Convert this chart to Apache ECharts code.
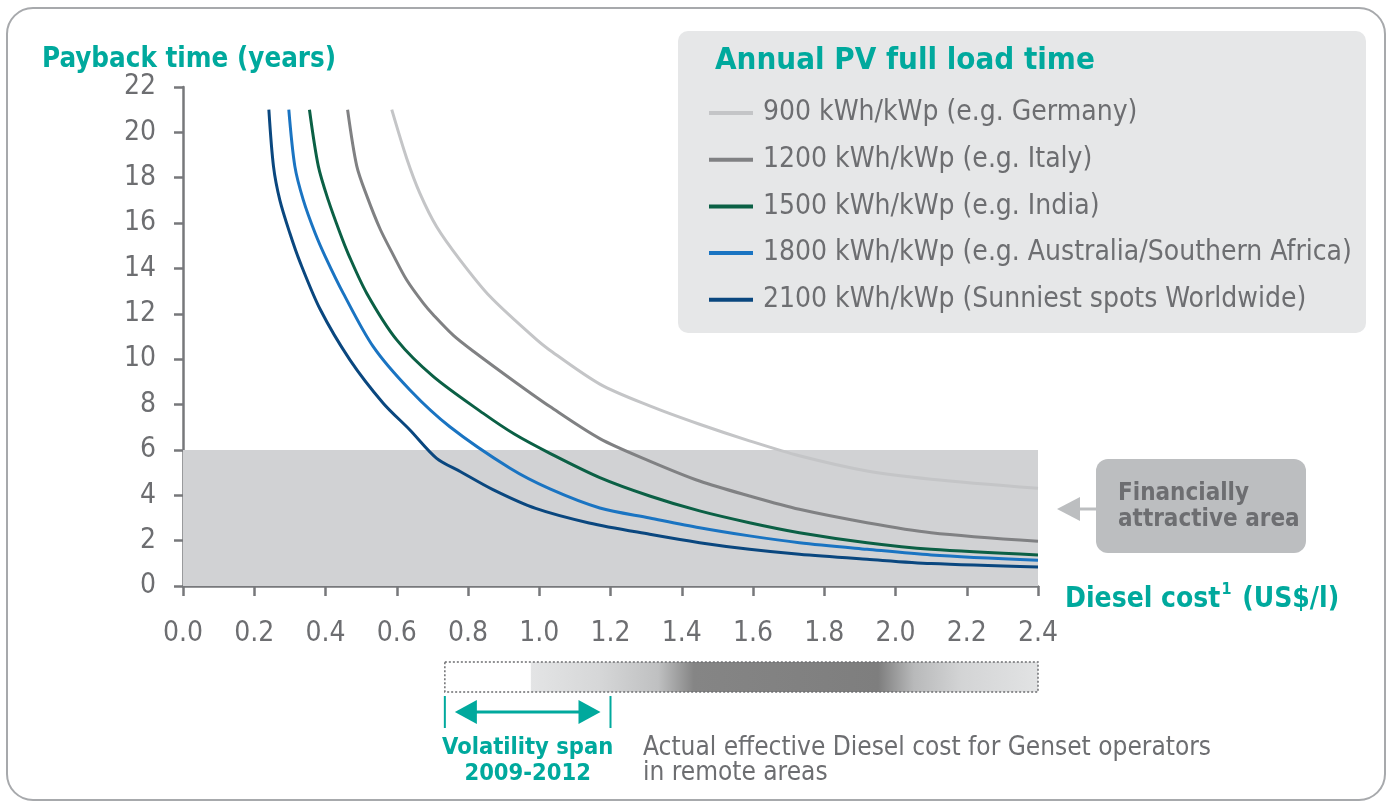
<!DOCTYPE html>
<html><head><meta charset="utf-8">
<script src="https://cdn.jsdelivr.net/npm/echarts@6/dist/echarts.min.js"></script>
<style>html,body{margin:0;padding:0;background:#fff;}#c{width:1393px;height:804px;}</style>
</head><body><div id="c"></div>
<script>
const seriesNames = [
  '900 kWh/kWp (e.g. Germany)',
  '1200 kWh/kWp (e.g. Italy)',
  '1500 kWh/kWp (e.g. India)',
  '1800 kWh/kWp (e.g. Australia/Southern Africa)',
  '2100 kWh/kWp (Sunniest spots Worldwide)'
];
const pv900 = [[0.586,21.0],[0.628,18.85],[0.665,17.31],[0.712,15.84],[0.778,14.37],[0.862,12.76],[0.983,10.99],[1.025,10.45],[1.17,8.9],[1.31,7.94],[1.45,7.13],[1.59,6.40],[1.73,5.74],[1.92,5.07],[2.1,4.71],[2.4,4.31]];
const pv1200 = [[0.462,21.0],[0.488,18.5],[0.516,17.2],[0.553,15.75],[0.59,14.6],[0.628,13.49],[0.675,12.46],[0.703,11.95],[0.759,11.05],[0.815,10.35],[0.937,8.94],[1.03,7.91],[1.17,6.5],[1.31,5.51],[1.45,4.63],[1.59,3.97],[1.73,3.38],[1.92,2.79],[2.1,2.35],[2.4,1.97]];
const pv1500 = [[0.355,21.0],[0.38,18.5],[0.408,17.0],[0.441,15.55],[0.465,14.6],[0.516,12.9],[0.60,10.85],[0.703,9.23],[0.843,7.61],[0.93,6.70],[1.03,5.85],[1.17,4.78],[1.31,3.97],[1.45,3.31],[1.59,2.79],[1.73,2.35],[1.92,1.91],[2.1,1.62],[2.4,1.37]];
const pv1800 = [[0.297,21.0],[0.314,18.5],[0.338,17.0],[0.371,15.55],[0.40,14.5],[0.45,12.9],[0.534,10.55],[0.637,8.64],[0.749,7.02],[0.918,5.19],[1.03,4.28],[1.17,3.44],[1.31,3.0],[1.45,2.57],[1.59,2.21],[1.73,1.91],[1.92,1.62],[2.1,1.37],[2.4,1.13]];
const pv2100 = [[0.241,21.0],[0.254,18.5],[0.272,17.0],[0.30,15.55],[0.328,14.3],[0.385,12.2],[0.469,9.96],[0.562,8.06],[0.637,6.88],[0.712,5.63],[0.778,5.05],[0.87,4.25],[0.99,3.42],[1.14,2.78],[1.31,2.28],[1.45,1.91],[1.59,1.62],[1.73,1.40],[1.92,1.18],[2.1,0.99],[2.4,0.84]];
const seriesData = [pv900, pv1200, pv1500, pv1800, pv2100];
const seriesColors = ['#c4c5c7', '#808183', '#0b6045', '#1a74c2', '#0a477f'];
const attractiveBand = [0, 6];           // payback years shaded
const xRange = [0, 2.4];
const xTickStep = 0.2;
const yRange = [0, 22];
const yTickStep = 2;
const dieselCostRange = [0.735, 2.4];   // actual effective diesel cost bar
const volatilitySpan = [0.735, 1.2];    // 2009-2012

const TEAL = '#00a99d', GREY = '#6d6e71';
const FONT = "'DejaVu Sans Condensed','Liberation Sans Narrow',Roboto,sans-serif";

const chart = echarts.init(document.getElementById('c'));
const series = seriesData.map((d, i) => ({
  name: seriesNames[i], type: 'line', data: d, showSymbol: false, symbol: 'none',
  smooth: 0.3, lineStyle: { color: seriesColors[i], width: 3 }, itemStyle: { color: seriesColors[i] },
  z: 3, silent: true
}));
series.unshift({
  type: 'line', data: [], silent: true, z: 1,
  markArea: { silent: true, itemStyle: { color: '#d1d2d4' },
    data: [[{ xAxis: xRange[0], yAxis: attractiveBand[0] }, { xAxis: xRange[1], yAxis: attractiveBand[1] }]] }
});

chart.setOption({
  animation: false,
  grid: { left: 183, right: 355, top: 87, bottom: 218 },
  xAxis: {
    type: 'value', min: xRange[0], max: xRange[1], interval: xTickStep,
    splitLine: { show: false },
    axisLine: { lineStyle: { color: '#77787b', width: 2.5 } },
    axisTick: { length: 10, lineStyle: { color: '#77787b', width: 2.5 } },
    axisLabel: { color: GREY, fontSize: 28, fontFamily: FONT, margin: 34, formatter: v => v.toFixed(1) }
  },
  yAxis: {
    type: 'value', min: yRange[0], max: yRange[1], interval: yTickStep,
    splitLine: { show: false },
    axisLine: { show: true, lineStyle: { color: '#77787b', width: 2.5 } },
    axisTick: { show: true, length: 9, lineStyle: { color: '#77787b', width: 2.5 } },
    axisLabel: { color: GREY, fontSize: 28, fontFamily: FONT, margin: 27 }
  },
  legend: {
    data: seriesNames, orient: 'vertical', left: 704, top: 93, itemGap: 16.7,
    icon: 'rect', itemWidth: 44, itemHeight: 4, selectedMode: false, z: 10,
    textStyle: { color: GREY, fontSize: 28, fontFamily: FONT, lineHeight: 30, padding: [0, 0, 0, 5] }
  },
  series
});

function px(x, y) { return chart.convertToPixel({ gridIndex: 0 }, [x, y]); }
const axisY = px(0, 0)[1];
const barL = px(dieselCostRange[0], 0)[0], barR = px(dieselCostRange[1], 0)[0];
const vL = px(volatilitySpan[0], 0)[0], vR = px(volatilitySpan[1], 0)[0];
const barTop = axisY + 76, barH = 30;
const aY = axisY + 126;

chart.setOption({
  graphic: [
    { type: 'rect', z: -10, shape: { x: 7, y: 8, width: 1378, height: 792, r: 26 }, style: { fill: 'none', stroke: '#a7a9ac', lineWidth: 2 } },
    { type: 'text', x: 42, y: 46, style: { text: 'Payback time (years)', fill: TEAL, font: 'bold 27.5px ' + FONT } },
    { type: 'rect', z: 0, shape: { x: 678, y: 31, width: 688, height: 302, r: 10 }, style: { fill: '#e6e7e8' } },
    { type: 'text', z: 1, x: 715, y: 45, style: { text: 'Annual PV full load time', fill: TEAL, font: 'bold 31px ' + FONT } },
    // financially attractive area box
    { type: 'rect', shape: { x: 1096, y: 459, width: 210, height: 94, r: 12 }, style: { fill: '#bcbec0' } },
    { type: 'text', x: 1118, y: 481, style: { text: 'Financially\nattractive area', fill: GREY, font: 'bold 24px ' + FONT, lineHeight: 26 } },
    { type: 'line', shape: { x1: 1078, y1: 509, x2: 1096, y2: 509 }, style: { stroke: '#bcbec0', lineWidth: 3 } },
    { type: 'polygon', shape: { points: [[1057, 509], [1080, 497], [1080, 521]] }, style: { fill: '#bcbec0' } },
    { type: 'text', x: 1065, y: 582, style: { text: '{a|Diesel cost}{s|1}{a| (US$/l)}', rich: {
        a: { fill: TEAL, font: 'bold 28px ' + FONT, lineHeight: 32, verticalAlign: 'bottom' },
        s: { fill: TEAL, font: 'bold 16px ' + FONT, lineHeight: 32, verticalAlign: 'top', padding: [0, 2, 14, 1] } } } },
    // diesel cost bar
    { type: 'rect', shape: { x: barL, y: barTop, width: barR - barL, height: barH }, style: {
        fill: new echarts.graphic.LinearGradient(0, 0, 1, 0, [
          { offset: 0, color: '#ffffff' }, { offset: 0.145, color: '#ffffff' }, { offset: 0.147, color: '#e3e4e5' },
          { offset: 0.26, color: '#d6d7d8' }, { offset: 0.36, color: '#bfc0c1' }, { offset: 0.42, color: '#858585' },
          { offset: 0.73, color: '#7e7e7e' }, { offset: 0.79, color: '#b8b9ba' }, { offset: 0.87, color: '#d3d4d5' },
          { offset: 1, color: '#e2e3e4' }]),
        stroke: '#6d6e71', lineWidth: 1.5, lineDash: [2, 2] } },
    // volatility span
    { type: 'line', shape: { x1: vL, y1: aY - 16, x2: vL, y2: aY + 16 }, style: { stroke: TEAL, lineWidth: 2 } },
    { type: 'line', shape: { x1: vR, y1: aY - 16, x2: vR, y2: aY + 16 }, style: { stroke: TEAL, lineWidth: 2 } },
    { type: 'line', shape: { x1: vL + 25, y1: aY, x2: vR - 25, y2: aY }, style: { stroke: TEAL, lineWidth: 3 } },
    { type: 'polygon', shape: { points: [[vL + 10, aY], [vL + 32, aY - 12], [vL + 32, aY + 12]] }, style: { fill: TEAL } },
    { type: 'polygon', shape: { points: [[vR - 10, aY], [vR - 32, aY - 12], [vR - 32, aY + 12]] }, style: { fill: TEAL } },
    { type: 'text', x: (vL + vR) / 2, y: 735, style: { text: 'Volatility span\n2009-2012', fill: TEAL, font: 'bold 23.5px ' + FONT, align: 'center', lineHeight: 26 } },
    { type: 'text', x: 643, y: 736, style: { text: 'Actual effective Diesel cost for Genset operators\nin remote areas', fill: GREY, font: '26px ' + FONT, lineHeight: 25 } }
  ]
});
</script></body></html>
